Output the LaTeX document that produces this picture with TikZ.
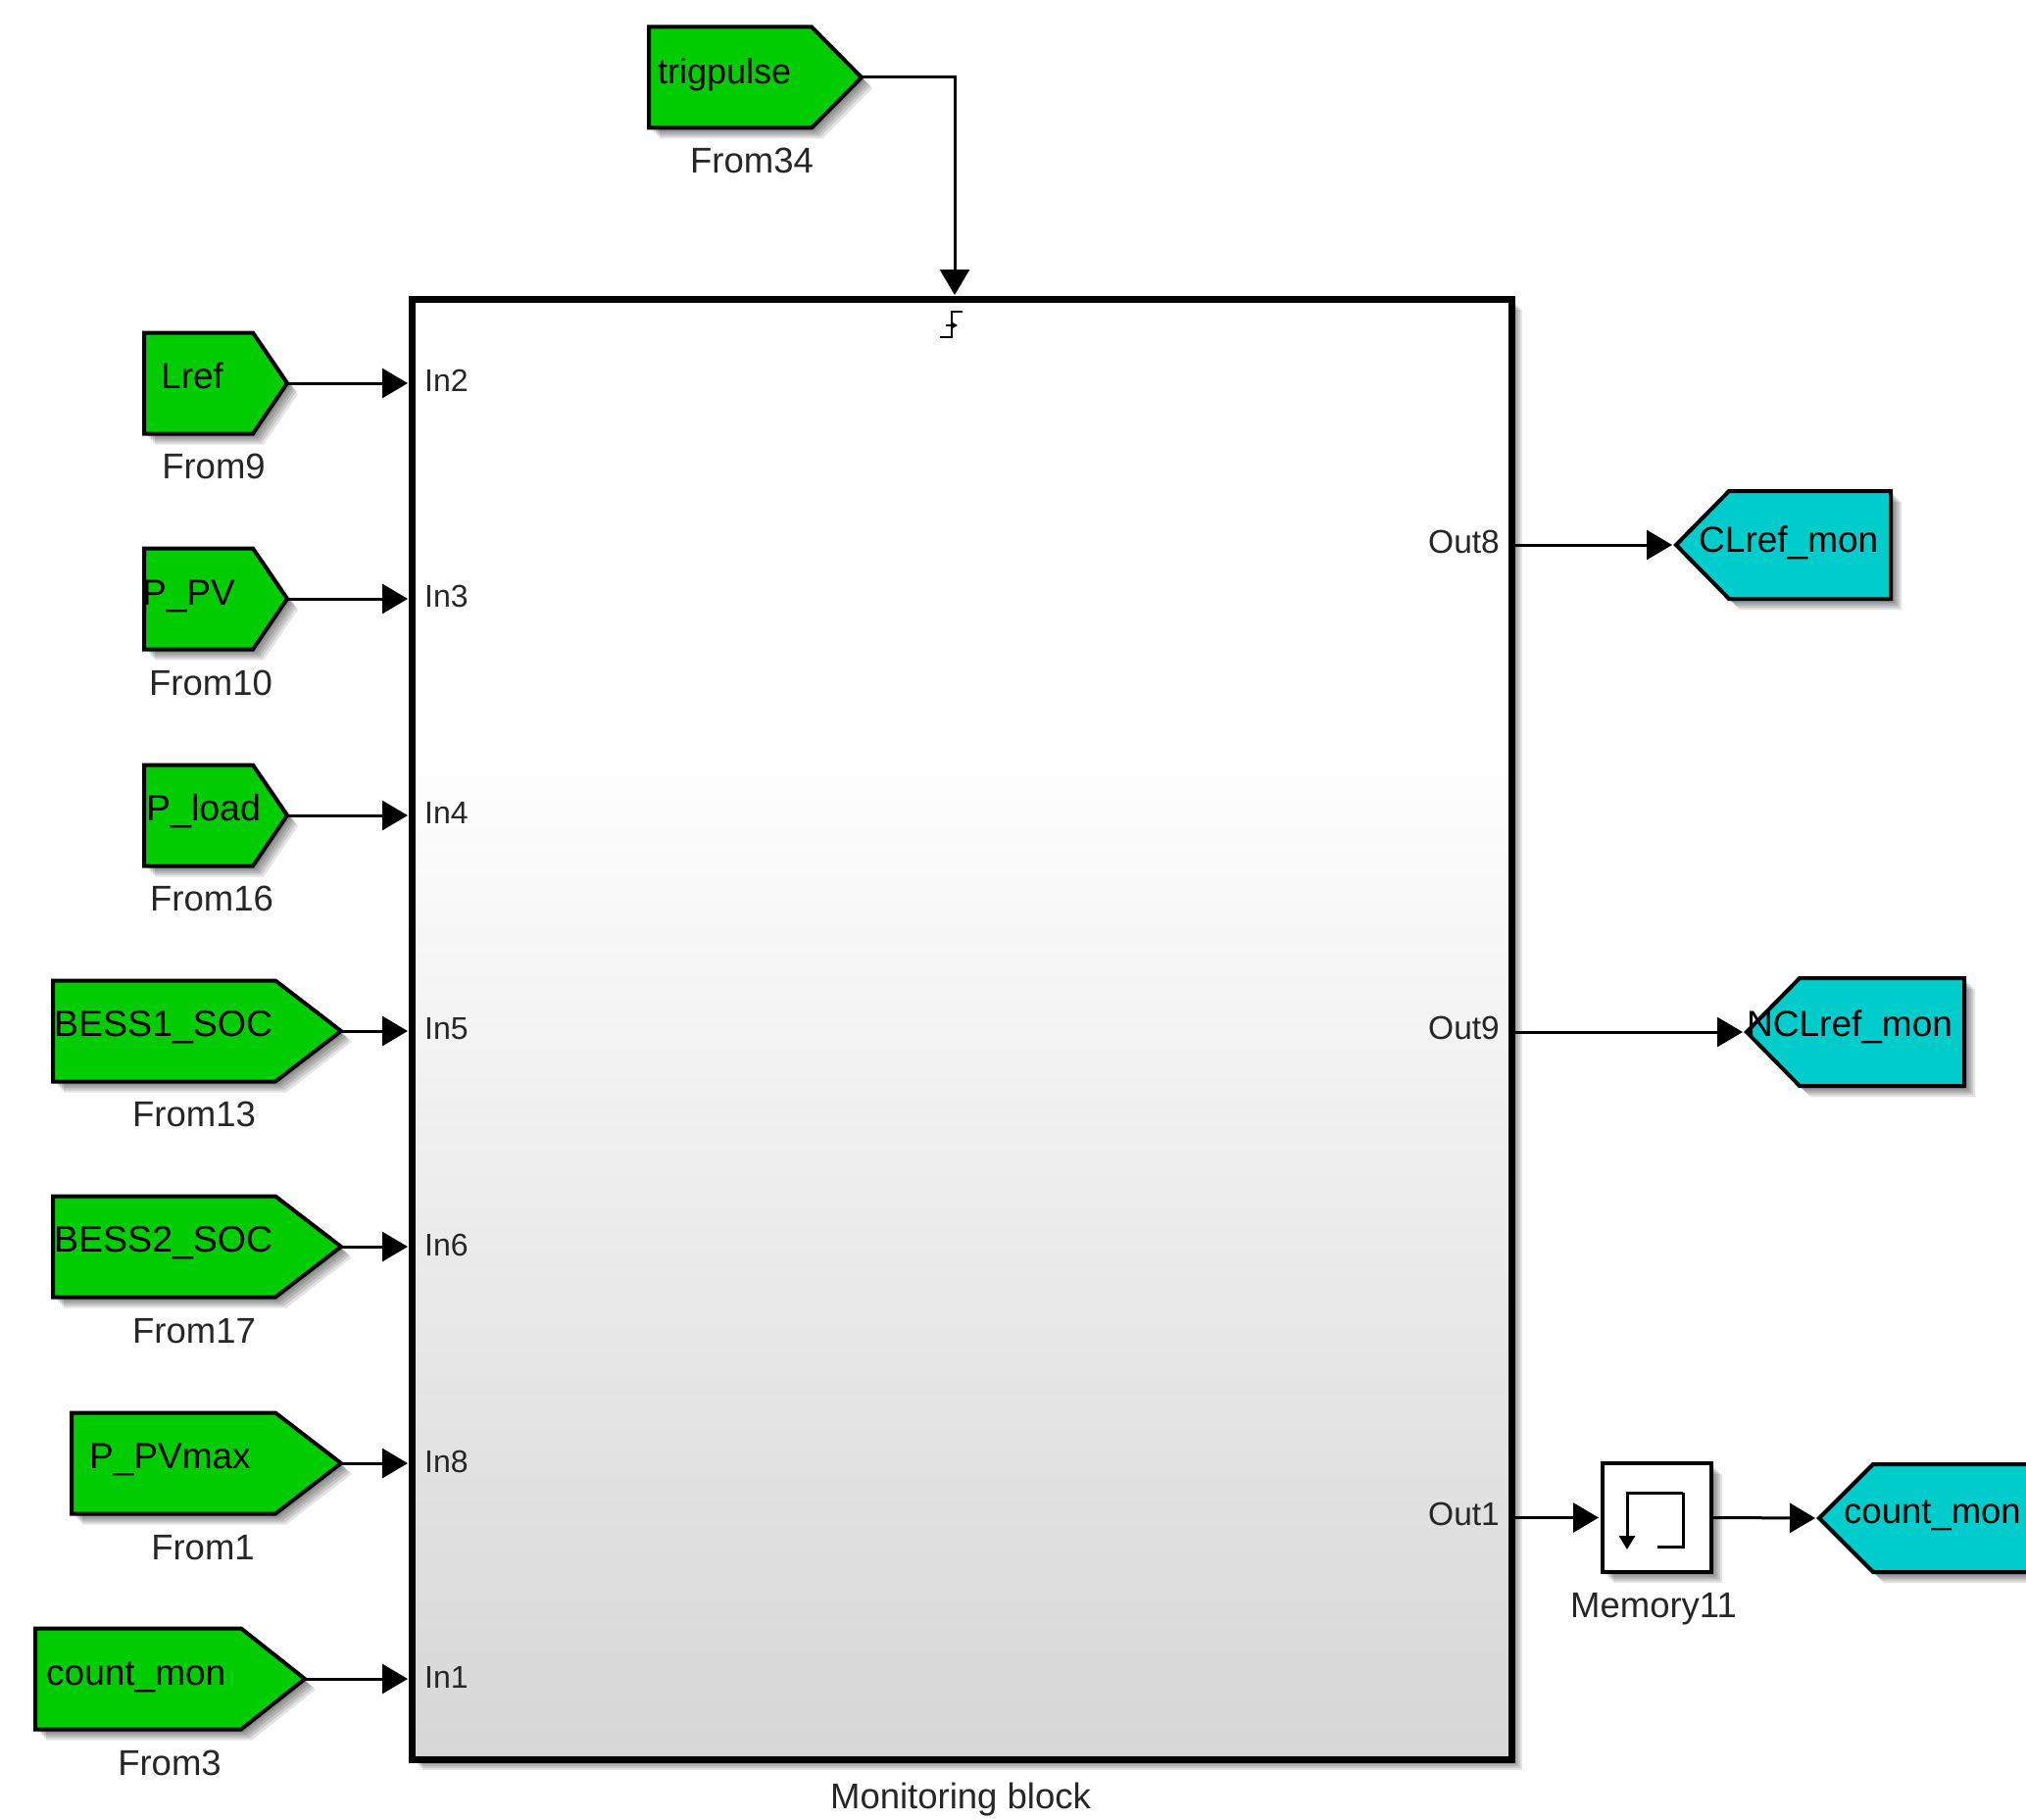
\documentclass[tikz,border=0pt]{standalone}
\usepackage{fontspec}
\setmainfont{Liberation Sans}
\usetikzlibrary{arrows.meta,calc}
\definecolor{taggreen}{HTML}{00CC00}
\definecolor{tagcyan}{HTML}{00CCCC}
\definecolor{txtgray}{HTML}{262626}
\pgfdeclareverticalshading{monshade}{100bp}{
  color(0bp)=(black!16); color(25bp)=(black!16); color(60bp)=(white); color(100bp)=(white)}
\tikzset{
  tagtext/.style={font=\fontsize{37}{40}\selectfont,anchor=west,inner sep=0pt,text height=27pt,text depth=8pt,text=black},
  captiontext/.style={font=\fontsize{36.5}{40}\selectfont,inner sep=0pt,text=txtgray},
  porttext/.style={font=\fontsize{32}{36}\selectfont,inner sep=0pt,text=txtgray,text height=24pt,text depth=0pt},
  sig/.style={line width=3pt,-{Triangle[length=26pt,width=30pt]},shorten >=4pt},
  softshadow/.style={fill=black,fill opacity=.11,draw=none}
}
% #1 colour, #2 name, #3 flat side x, #4 shoulder x, #5 tip x, #6 mid y, #7 half height
\newcommand{\tagshape}[7]{
  \foreach \d in {3,5,7,9,11}{
    \path[softshadow] ({#3+\d},{#6-#7+\d}) -- ({#4+\d},{#6-#7+\d}) -- ({#5+\d},{#6+\d}) -- ({#4+\d},{#6+#7+\d}) -- ({#3+\d},{#6+#7+\d}) -- cycle;
  }
  \draw[fill=#1,line width=4pt,line join=miter] (#3,{#6-#7}) -- (#4,{#6-#7}) -- (#5,#6) -- (#4,{#6+#7}) -- (#3,{#6+#7}) -- cycle;
  \coordinate (#2) at (#5,#6);
}
\begin{document}
\begin{tikzpicture}[x=1pt,y=-1pt]
\useasboundingbox (0,0) rectangle (2067,1857);
\clip (0,0) rectangle (2067,1857);
\fill[white] (0,0) rectangle (2067,1857);

% main block shadow and body
\foreach \d in {3,5,7,9,11}{
  \path[softshadow] ({420+\d},{305+\d}) rectangle ({1542+\d},{1795+\d});
}
\node[draw,line width=7pt,shading=monshade,minimum width=1122pt,minimum height=1490pt,inner sep=0pt,outer sep=0pt,anchor=north west] (mon) at (420,305) {};

% From tags
\tagshape{taggreen}{trig}{662}{828}{879}{79}{51.5}
\tagshape{taggreen}{lref}{147}{258}{293}{391}{51.5}
\tagshape{taggreen}{ppv}{147}{258}{293}{611}{51.5}
\tagshape{taggreen}{pload}{147}{258}{293}{832}{51.5}
\tagshape{taggreen}{bessa}{54}{281}{348}{1052}{51.5}
\tagshape{taggreen}{bessb}{54}{281}{348}{1272}{51.5}
\tagshape{taggreen}{pvmax}{73}{281}{348}{1493}{51.5}
\tagshape{taggreen}{countin}{36}{246}{311}{1713}{51.5}

% Goto tags
\tagshape{tagcyan}{clref}{1929}{1764}{1710}{556}{55}
\tagshape{tagcyan}{nclref}{2004}{1836}{1782}{1053}{55}
\tagshape{tagcyan}{countout}{2110}{1911}{1856}{1549}{55}

% Memory block
\foreach \d in {3,5,7,9,11}{
  \path[softshadow] ({1635+\d},{1493+\d}) rectangle ({1746+\d},{1604+\d});
}
\node[draw,fill=white,line width=4pt,minimum width=111pt,minimum height=111pt,inner sep=0pt,outer sep=0pt,anchor=north west] (mem) at (1635,1493) {};
\draw[line width=3pt,-{Triangle[length=14pt,width=16pt]}] (1717,1523) -- (1660,1523) -- (1660,1581);
\draw[line width=3pt] (1717,1523) -- (1717,1578) -- (1691,1578);

% Trigger symbol
\draw[line width=2.5pt] (982,318) -- (971,318) -- (971,344) -- (959,344);
\draw[line width=2pt,-{Triangle[length=7pt,width=8pt]}] (965,332) -- (977,332);

% Connectors
\draw[sig] (trig) -| (mon.north -| 974,0);
\foreach \n in {lref,ppv,pload,bessa,bessb,pvmax,countin}{
  \draw[sig] (\n) -- (\n -| mon.west);
}
\draw[sig] (clref -| mon.east) -- (clref);
\draw[sig] (nclref -| mon.east) -- (nclref);
\draw[sig] (mem.west -| mon.east) -- (mem.west);
\draw[sig] (mem.east) -- (countout);

% Tag texts
\node[tagtext] (t1) at (671,76) {\fontsize{36}{40}\selectfont trigpulse};
\node[tagtext] (t2) at (164,387) {Lref};
\node[tagtext] (t3) at (145,608) {P\_PV};
\node[tagtext] (t4) at (149,828) {\fontsize{37.5}{40}\selectfont P\_load};
\node[tagtext] (t5) at (55,1048) {\fontsize{37.5}{40}\selectfont BESS1\_SOC};
\node[tagtext] (t6) at (55,1268) {\fontsize{37.5}{40}\selectfont BESS2\_SOC};
\node[tagtext] (t7) at (91,1489) {P\_PVmax};
\node[tagtext] (t8) at (47,1710) {count\_mon};
\node[tagtext] (t9) at (1733,554) {CLref\_mon};
\node[tagtext] (t10) at (1782,1048) {NCLref\_mon};
\node[tagtext] (t11) at (1881,1545) {\fontsize{36.5}{40}\selectfont count\_mon};

% Captions
\node[captiontext] (c1) at (767,164) {From34};
\node[captiontext] (c2) at (218,476) {From9};
\node[captiontext] (c3) at (215,697) {From10};
\node[captiontext] (c4) at (216,917) {From16};
\node[captiontext] (c5) at (198,1137) {From13};
\node[captiontext] (c6) at (198,1358) {From17};
\node[captiontext] (c7) at (207,1579) {From1};
\node[captiontext] (c8) at (173,1799) {From3};
\node[captiontext] (c9) at (980,1836) {Monitoring block};
\node[captiontext] (c10) at (1687,1642) {Memory11};

% Port labels
\node[porttext,anchor=west] (p2) at (433,387) {In2};
\node[porttext,anchor=west] (p3) at (433,607) {In3};
\node[porttext,anchor=west] (p4) at (433,828) {In4};
\node[porttext,anchor=west] (p5) at (433,1048) {In5};
\node[porttext,anchor=west] (p6) at (433,1269) {In6};
\node[porttext,anchor=west] (p8) at (433,1490) {In8};
\node[porttext,anchor=west] (p1) at (433,1710) {In1};
\node[porttext,anchor=east,font=\fontsize{33.5}{36}\selectfont] (o8) at (1530,552) {Out8};
\node[porttext,anchor=east,font=\fontsize{33.5}{36}\selectfont] (o9) at (1530,1048) {Out9};
\node[porttext,anchor=east,font=\fontsize{33.5}{36}\selectfont] (o1) at (1530,1544) {Out1};
\end{tikzpicture}
\end{document}
